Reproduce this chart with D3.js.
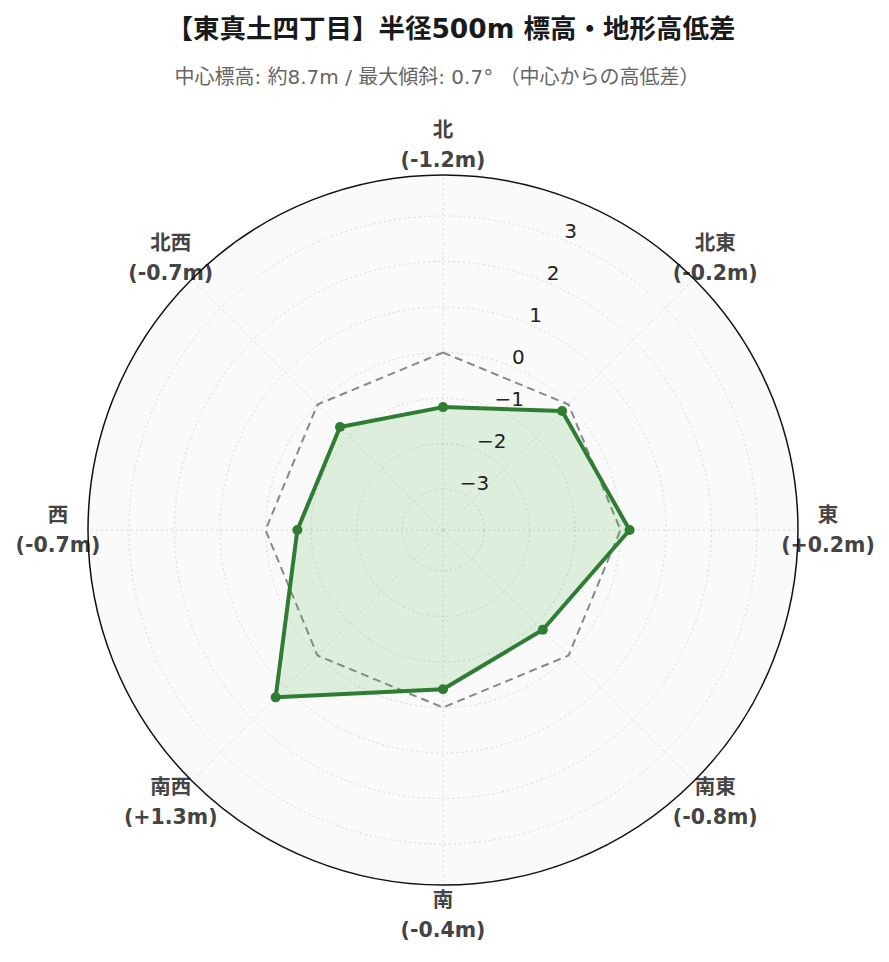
<!DOCTYPE html>
<html>
<head>
<meta charset="utf-8">
<script src="https://cdn.jsdelivr.net/npm/d3@7/dist/d3.min.js"></script>
<style>
  body { margin: 0; background: #fff; }
  svg text { font-family: "DejaVu Sans", "Noto Sans CJK JP", sans-serif; }
</style>
</head>
<body>
<div id="chart"></div>
<script>
const titleText = "【東真土四丁目】半径500m 標高・地形高低差"
const subtitleText = "中心標高: 約8.7m / 最大傾斜: 0.7° （中心からの高低差）"

const directions = ["北", "北東", "東", "南東", "南", "南西", "西", "北西"]
const heightDiffs = [-1.2, -0.2, 0.2, -0.8, -0.4, 1.3, -0.7, -0.7]
const referenceLevel = [0, 0, 0, 0, 0, 0, 0, 0]
const radialTicks = [-3, -2, -1, 0, 1, 2, 3]
const radialRange = [-3.9, 3.9]

const width = 889, height = 962
const cx = 443, cy = 530, outerR = 355

const svg = d3.select("#chart")
  .append("svg")
  .attr("width", width)
  .attr("height", height)

const r = d3.scaleLinear().domain(radialRange).range([0, outerR])
const angle = d3.scalePoint().domain(directions).range([0, 2 * Math.PI * 7 / 8])

const g = svg.append("g").attr("transform", `translate(${cx},${cy})`)

// polar background
g.append("circle").attr("r", outerR).attr("fill", "#fafafa")

// grid circles
g.selectAll("circle.grid")
  .data(radialTicks)
  .enter()
    .append("circle")
    .attr("class", "grid")
    .attr("r", d => r(d))
    .attr("fill", "none")
    .attr("stroke", "#d6d6d6")
    .attr("stroke-width", 1)
    .attr("stroke-dasharray", "2,3")

// spokes
g.selectAll("line.spoke")
  .data(directions)
  .enter()
    .append("line")
    .attr("class", "spoke")
    .attr("x1", 0).attr("y1", 0)
    .attr("x2", d => outerR * Math.sin(angle(d)))
    .attr("y2", d => -outerR * Math.cos(angle(d)))
    .attr("stroke", "#d6d6d6")
    .attr("stroke-width", 1)
    .attr("stroke-dasharray", "2,3")

const radarLine = d3.lineRadial()
  .angle((d, i) => angle(directions[i]))
  .radius(d => r(d))
  .curve(d3.curveLinearClosed)

// reference (0m) polygon
g.append("path")
  .attr("d", radarLine(referenceLevel))
  .attr("fill", "none")
  .attr("stroke", "#888")
  .attr("stroke-width", 2)
  .attr("stroke-dasharray", "8,5")

// data polygon
g.append("path")
  .attr("d", radarLine(heightDiffs))
  .attr("fill", "rgba(76,175,80,0.17)")
  .attr("stroke", "#2e7d32")
  .attr("stroke-width", 4)
  .attr("stroke-linejoin", "round")

g.selectAll("circle.pt")
  .data(heightDiffs)
  .enter()
    .append("circle")
    .attr("class", "pt")
    .attr("cx", (d, i) => r(d) * Math.sin(angle(directions[i])))
    .attr("cy", (d, i) => -r(d) * Math.cos(angle(directions[i])))
    .attr("r", 5)
    .attr("fill", "#2e7d32")

// radial tick labels along 22.5deg
const tickAngle = Math.PI / 8
g.selectAll("text.rtick")
  .data(radialTicks)
  .enter()
    .append("text")
    .attr("class", "rtick")
    .attr("x", d => r(d) * Math.sin(tickAngle) + 1)
    .attr("y", d => -r(d) * Math.cos(tickAngle) - 9)
    .attr("dominant-baseline", "central")
    .attr("font-size", 20)
    .attr("fill", "#222")
    .text(d => d < 0 ? "\u2212" + Math.abs(d) : d)

// angular labels
const fmt = v => (v > 0 ? "+" : v < 0 ? "-" : "") + Math.abs(v).toFixed(1) + "m"
const labelR = 385
const lab = g.selectAll("text.alabel")
  .data(directions)
  .enter()
    .append("text")
    .attr("class", "alabel")
    .attr("text-anchor", "middle")
    .attr("font-size", 20.5)
    .attr("font-weight", "bold")
    .attr("fill", "#444")
    .attr("transform", d => `translate(${labelR * Math.sin(angle(d))},${-labelR * Math.cos(angle(d))})`)
lab.append("tspan")
  .attr("x", 0)
  .attr("y", -15)
  .attr("dominant-baseline", "central")
  .text(d => d)
lab.append("tspan")
  .attr("x", 0)
  .attr("y", 15)
  .attr("dominant-baseline", "central")
  .text((d, i) => `(${fmt(heightDiffs[i])})`)

// outer border
g.append("circle")
  .attr("r", outerR)
  .attr("fill", "none")
  .attr("stroke", "#111")
  .attr("stroke-width", 1.5)

// titles
svg.append("text")
  .attr("x", 451).attr("y", 28)
  .attr("text-anchor", "middle")
  .attr("dominant-baseline", "central")
  .attr("font-size", 26.5)
  .attr("font-weight", "bold")
  .attr("fill", "#1a1a1a")
  .text(titleText)

svg.append("text")
  .attr("x", 437).attr("y", 77)
  .attr("text-anchor", "middle")
  .attr("dominant-baseline", "central")
  .attr("font-size", 20)
  .attr("fill", "#666")
  .text(subtitleText)
</script>
</body>
</html>
